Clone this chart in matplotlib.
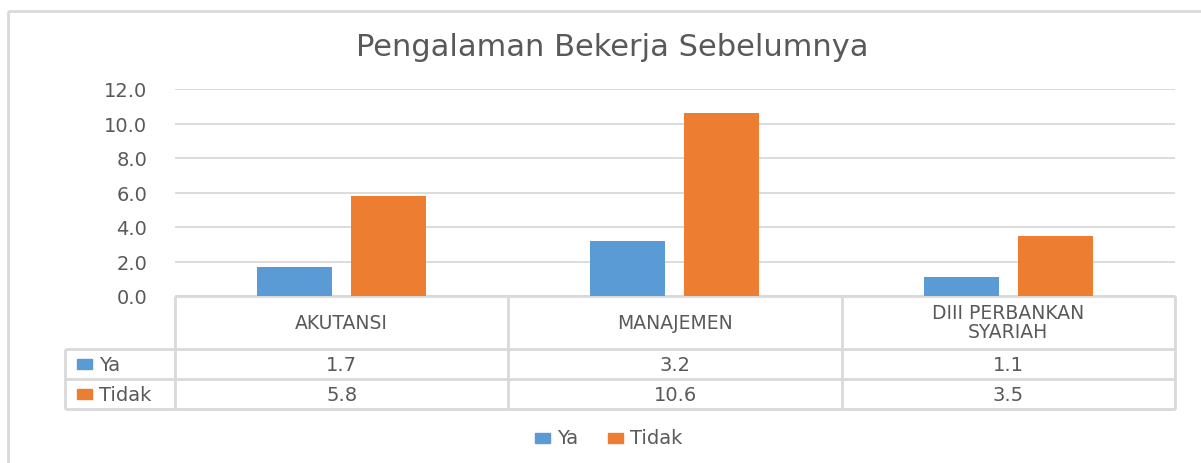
import matplotlib
matplotlib.use("Agg")
import matplotlib.pyplot as plt
from matplotlib.patches import Rectangle
import numpy as np

plt.rcParams['font.family'] = ['DejaVu Sans']

categories = ['AKUTANSI', 'MANAJEMEN', 'DIII PERBANKAN\nSYARIAH']
series = ['Ya', 'Tidak']
ya = [1.7, 3.2, 1.1]
tidak = [5.8, 10.6, 3.5]
yticks = [0, 2, 4, 6, 8, 10, 12]

blue = '#5B9BD5'
orange = '#ED7D31'
grid = '#D9D9D9'
txt = '#595959'

W, H = 1201, 464
fig = plt.figure(figsize=(W / 100, H / 100), dpi=100)

# overlay in pixel units for frame, table and legend
ov = fig.add_axes([0, 0, 1, 1], zorder=0)
ov.set_xlim(0, W)
ov.set_ylim(H, 0)
ov.axis('off')
ov.add_patch(Rectangle((8, 12), 1210, 470, fill=False, ec=grid, lw=2))

# plot area
x0, x1, ytop, ybot = 175, 1175, 90, 297
ax = fig.add_axes([x0 / W, (H - ybot) / H, (x1 - x0) / W, (ybot - ytop) / H], zorder=1)
ax.patch.set_alpha(0)
x = np.arange(len(categories))
bw = 0.225
off = 0.141
ax.bar(x - off, ya, bw, color=blue, zorder=3)
ax.bar(x + off, tidak, bw, color=orange, zorder=3)
ax.set_xlim(-0.5, len(categories) - 0.5)
ax.set_ylim(0, 12)
ax.set_yticks(yticks)
ax.set_yticklabels(['%.1f' % v for v in yticks], fontsize=14, color=txt)
ax.tick_params(axis='y', length=0, pad=20)
ax.set_xticks([])
for s in ax.spines.values():
    s.set_visible(False)
ax.yaxis.grid(True, color=grid, lw=1.3)
ax.set_axisbelow(True)

fig.text(612 / W, 1 - 48 / H, 'Pengalaman Bekerja Sebelumnya', ha='center', va='center',
         fontsize=22, color=txt)

# data table below the axis
colw = (x1 - x0) / len(categories)
r0, r1, r2, r3 = 297, 350, 380, 410
lkw = dict(color=grid, lw=2, solid_capstyle='butt')
ov.plot([x0, x1], [r0, r0], **lkw)
ov.plot([65, x1], [r1, r1], **lkw)
ov.plot([65, x1], [r2, r2], **lkw)
ov.plot([65, x1], [r3, r3], **lkw)
ov.plot([65, 65], [r1, r3], **lkw)
for i in range(len(categories) + 1):
    ov.plot([x0 + i * colw] * 2, [r0, r3], **lkw)

for i, cat in enumerate(categories):
    cx = x0 + (i + 0.5) * colw
    ov.text(cx, (r0 + r1) / 2, cat, ha='center', va='center', fontsize=13.5,
            color=txt, linespacing=1.0)
    ov.text(cx, (r1 + r2) / 2 + 1, '%.1f' % ya[i], ha='center', va='center',
            fontsize=14, color=txt)
    ov.text(cx, (r2 + r3) / 2 + 1, '%.1f' % tidak[i], ha='center', va='center',
            fontsize=14, color=txt)

for name, col, (ya0, ya1) in zip(series, [blue, orange], [(r1, r2), (r2, r3)]):
    ym = (ya0 + ya1) / 2
    ov.add_patch(Rectangle((77, ym - 5), 15, 10, color=col))
    ov.text(99, ym + 1, name, ha='left', va='center', fontsize=14, color=txt)

# legend
ly = 439
for name, col, lx in zip(series, [blue, orange], [535, 608]):
    ov.add_patch(Rectangle((lx, ly - 5), 15, 10, color=col))
    ov.text(lx + 22, ly, name, ha='left', va='center', fontsize=14, color=txt)

fig.savefig('out.png', dpi=100)
